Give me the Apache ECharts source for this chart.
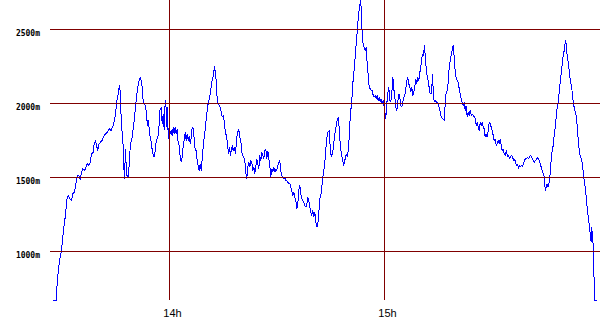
<!DOCTYPE html>
<html>
<head>
<meta charset="utf-8">
<script src="https://cdn.jsdelivr.net/npm/echarts@6/dist/echarts.min.js"></script>
<style>html,body{margin:0;padding:0;background:#fff;}#c{width:600px;height:330px;}#c svg path{shape-rendering:crispEdges;}</style>
</head>
<body>
<div id="c"></div>
<script>
// time in minutes after 13:00, altitude in metres
const climb = [[27.35,669],[28.47,669],[28.5,736],[28.83,838],[29.30,939],[29.78,995],[30.22,1097],[30.50,1164],[30.89,1232],[31.17,1299],[31.45,1367],[31.73,1378],[32.18,1356],[32.65,1345],[33.01,1390],[33.49,1401],[33.85,1457],[34.24,1514],[34.69,1514],[35.08,1484],[35.36,1525],[35.72,1559],[36.28,1547],[36.64,1566],[37.03,1593],[37.48,1581],[37.95,1603],[38.15,1655],[38.71,1671],[38.99,1728],[39.35,1750],[39.63,1716],[39.99,1682],[40.27,1723],[40.74,1739],[41.22,1750],[41.50,1772],[41.94,1791],[42.42,1799],[42.78,1813],[43.17,1829],[43.73,1818],[44.09,1840],[44.46,1867],[44.85,1919],[45.13,1975],[45.40,2032],[45.68,2066],[45.85,2099],[46.13,2122],[46.33,2020],[46.60,1840],[46.97,1772],[47.16,1615],[47.44,1491],[47.72,1694],[48.00,1525],[48.28,1502],[48.56,1502],[48.84,1637],[49.12,1728],[49.59,1772],[50.04,1863],[50.51,1975],[50.79,2043],[51.15,2110],[51.54,2155],[51.91,2178]];
const around14h = [[52.38,2110],[52.66,2009],[53.02,1998],[53.39,1975],[53.58,1907],[53.94,1851],[54.14,1885],[54.42,1795],[54.78,1761],[55.06,1705],[55.45,1649],[55.81,1637],[56.09,1705],[56.37,1755],[56.73,1772],[57.01,1818],[57.29,1953],[57.68,1975],[57.96,1863],[58.24,1930],[58.52,1818],[58.80,2020],[59.08,1964],[59.25,1840],[59.44,1975],[59.64,1761],[59.92,1851],[60.20,1795],[60.47,1818],[60.75,1784],[61.03,1840],[61.31,1795],[61.59,1840],[61.87,1795],[62.15,1829],[62.43,1728],[62.71,1716],[62.99,1637],[63.27,1603],[63.54,1637],[63.82,1716],[64.10,1750],[64.38,1806],[64.66,1750],[64.94,1795],[65.22,1750],[65.50,1777],[65.78,1728],[66.06,1768],[66.33,1840],[66.61,1829],[66.89,1761],[67.17,1682],[67.45,1682],[67.73,1615],[68.01,1581],[68.29,1543],[68.57,1593],[68.85,1547],[69.13,1626],[69.40,1705],[69.68,1772],[70.05,1840],[70.33,1919],[70.69,1986],[71.08,2032],[71.44,2076],[71.72,2133],[72.00,2167],[72.28,2196],[72.56,2250],[72.84,2201],[73.12,2133],[73.31,2020],[73.59,1998],[73.95,1986],[74.23,1964],[74.51,1930],[74.79,1907],[75.07,1919],[75.35,1863],[75.63,1795],[75.91,1784],[76.19,1728],[76.47,1660],[76.74,1705],[77.02,1649]];
const descent = [[77.50,1716],[77.78,1682],[78.14,1705],[78.42,1660],[78.78,1772],[79.06,1806],[79.34,1829],[79.62,1772],[79.90,1750],[80.18,1671],[80.46,1649],[80.73,1637],[81.01,1615],[81.29,1536],[81.57,1491],[81.85,1570],[82.13,1603],[82.41,1570],[82.69,1615],[82.97,1603],[83.25,1547],[83.53,1570],[83.80,1525],[84.08,1570],[84.36,1626],[84.64,1593],[84.92,1559],[85.20,1649],[85.48,1615],[85.76,1671],[86.04,1649],[86.32,1626],[86.60,1682],[86.87,1694],[87.15,1626],[87.43,1682],[87.71,1626],[87.99,1581],[88.27,1507],[88.55,1559],[88.83,1536],[89.11,1570],[89.39,1536],[89.67,1559],[89.94,1547],[90.22,1581],[90.50,1603],[90.78,1615],[91.06,1547],[91.34,1514],[91.62,1498],[91.90,1491],[92.18,1502],[92.46,1480],[92.73,1480],[93.01,1468],[93.29,1457],[93.57,1461],[93.85,1434],[94.13,1412],[94.41,1378],[94.69,1401],[94.97,1367],[95.25,1345],[95.53,1289],[95.80,1322],[96.08,1412],[96.36,1446],[96.64,1390],[96.92,1356],[97.20,1345],[97.48,1333],[97.76,1311],[98.04,1299],[98.32,1322],[98.60,1367],[98.87,1345],[99.15,1299],[99.43,1266],[99.71,1243],[99.99,1277],[100.27,1232],[100.55,1266],[100.83,1198],[101.11,1164],[101.39,1187],[101.66,1255],[101.94,1356],[102.22,1378],[102.50,1434],[102.78,1502],[103.06,1547],[103.34,1603],[103.62,1682]];
const around15h = [[103.81,1750],[104.18,1806],[104.57,1818],[104.85,1705],[105.13,1637],[105.40,1660],[105.77,1705],[106.05,1784],[106.33,1818],[106.60,1863],[106.88,1897],[107.16,1907],[107.44,1795],[107.72,1705],[108.00,1649],[108.36,1615],[108.64,1581],[108.92,1615],[109.31,1660],[109.67,1637],[110.04,1728],[110.32,1863],[110.60,1953],[110.87,2020],[111.15,2133],[111.43,2201],[111.71,2279],[111.99,2370],[112.27,2448],[112.55,2539],[112.83,2617],[113.11,2662],[113.39,2699],[113.58,2561],[113.78,2471],[114.06,2392],[114.33,2380],[114.61,2358],[114.89,2380],[115.17,2268],[115.45,2189],[115.73,2110],[116.01,2099],[116.29,2088],[116.57,2088],[116.85,2054],[117.13,2043],[117.40,2054],[117.68,2032],[117.96,2054],[118.24,2020],[118.52,2043],[118.80,2009],[119.08,2032],[119.36,1998],[119.64,2020],[119.92,1975],[120.19,1930],[120.36,1897],[120.64,1998],[120.92,2066],[121.20,2110],[121.48,2020],[121.76,2009],[122.04,2066],[122.32,2178],[122.60,2099],[122.87,2043],[123.15,1975],[123.43,1953],[123.71,2009],[123.99,2066],[124.27,2043],[124.55,1986],[124.83,1975],[125.11,2009],[125.39,2043],[125.66,2054],[125.94,2099],[126.22,2155],[126.50,2178],[126.78,2133],[127.06,2110],[127.34,2076],[127.62,2110],[127.90,2054],[128.18,2076],[128.46,2110],[128.73,2167],[129.01,2133],[129.29,2178],[129.57,2155],[129.85,2212]];
const ridges = [[130.05,2223],[130.33,2291],[130.61,2336],[130.88,2324],[131.16,2392],[131.44,2291],[131.72,2223],[132.00,2167],[132.28,2155],[132.56,2076],[132.84,2066],[133.12,2066],[133.40,2201],[133.67,2043],[133.95,2009],[134.23,2020],[134.51,2009],[134.79,2009],[135.07,1986],[135.35,1964],[135.63,1930],[135.91,1907],[136.19,1897],[136.46,1890],[136.74,1885],[136.94,2009],[137.22,2076],[137.50,2088],[137.78,2144],[138.06,2245],[138.33,2291],[138.61,2324],[138.89,2358],[139.17,2392],[139.45,2313],[139.73,2212],[140.01,2167],[140.29,2155],[140.57,2144],[140.85,2099],[141.13,2066],[141.40,2032],[141.68,2009],[141.96,1986],[142.24,2009],[142.52,1953],[142.80,1986],[143.08,1907],[143.36,1941],[143.64,1919],[143.92,1953],[144.20,1919],[144.47,1930],[144.75,1919],[145.03,1912],[145.31,1897],[145.59,1851],[145.87,1874],[146.15,1840],[146.43,1818],[146.71,1874],[146.99,1851],[147.26,1874],[147.54,1840],[147.82,1829],[148.10,1772],[148.38,1795],[148.66,1772],[148.94,1818],[149.22,1874],[149.50,1863],[149.78,1840],[150.06,1818],[150.33,1784],[150.61,1750],[150.89,1761],[151.17,1716],[151.45,1728],[151.73,1750],[152.01,1728],[152.29,1761],[152.57,1716],[152.85,1682],[153.13,1694],[153.40,1660],[153.68,1649]];
const finale = [[154.05,1682],[154.33,1637],[154.61,1649],[154.88,1626],[155.16,1637],[155.44,1649],[155.72,1642],[156.00,1615],[156.28,1626],[156.56,1603],[156.84,1581],[157.12,1593],[157.40,1559],[157.67,1581],[157.95,1570],[158.23,1581],[158.51,1570],[158.79,1593],[159.07,1615],[159.35,1626],[159.63,1626],[159.91,1637],[160.19,1626],[160.47,1637],[160.74,1649],[161.02,1637],[161.30,1626],[161.58,1615],[161.86,1603],[162.14,1615],[162.42,1626],[162.70,1633],[162.98,1626],[163.26,1615],[163.53,1581],[163.81,1570],[164.09,1536],[164.37,1525],[164.65,1491],[164.85,1412],[165.13,1434],[165.40,1457],[165.68,1434],[165.96,1468],[166.24,1525],[166.52,1626],[166.80,1682],[167.08,1716],[167.36,1784],[167.64,1840],[167.92,1907],[168.20,1975],[168.47,2009],[168.75,2076],[169.03,2144],[169.31,2201],[169.59,2268],[169.87,2324],[170.15,2358],[170.43,2414],[170.60,2430],[170.79,2358],[171.07,2313],[171.35,2268],[171.63,2201],[171.91,2144],[172.19,2122],[172.47,2054],[172.74,1998],[173.02,1964],[173.30,1941],[173.58,1907],[173.86,1818],[174.14,1728],[174.42,1671],[174.70,1637],[174.98,1626],[175.26,1581],[175.53,1525],[175.81,1457],[176.09,1424],[176.37,1345],[176.65,1277],[176.93,1221],[177.21,1164],[177.49,1097],[177.68,1063],[177.85,1164],[178.05,1074],[178.24,1052],[178.41,1007],[178.52,669],[178.69,669],[179.44,669]];

const yTicks = [1000, 1500, 2000, 2500];
const xTicks = [60, 120];
const xTickLabels = ['14h', '15h'];

const track = [].concat(climb, around14h, descent, around15h, ridges, finale);

const chart = echarts.init(document.getElementById('c'), null, {renderer: 'svg'});
const gridColor = '#800000';
const markLines = yTicks.map(v => ({yAxis: v})).concat(xTicks.map(v => ({xAxis: v})));

chart.setOption({
  animation: false,
  backgroundColor: '#ffffff',
  grid: {left: 50, right: 0, top: 0, bottom: 30, containLabel: false},
  xAxis: {
    type: 'value',
    min: 26.65,
    max: 180.14,
    axisLine: {show: false},
    axisTick: {show: false},
    splitLine: {show: false},
    axisLabel: {
      customValues: xTicks,
      formatter: v => xTickLabels[xTicks.indexOf(v)] || '',
      color: '#000',
      fontFamily: 'Liberation Sans, Arial, sans-serif',
      fontSize: 11,
      margin: 7,
      padding: [0, 0, 0, 6]
    }
  },
  yAxis: {
    type: 'value',
    min: 672.3,
    max: 2699.3,
    axisLine: {show: false},
    axisTick: {show: false},
    splitLine: {show: false},
    axisLabel: {
      customValues: yTicks,
      formatter: v => v + 'm',
      color: '#000',
      fontFamily: 'DejaVu Sans Mono, monospace',
      fontWeight: 'bold',
      fontSize: 8,
      margin: 10,
      verticalAlign: 'top'
    }
  },
  series: [
    {
      type: 'line',
      z: 1,
      data: [],
      silent: true,
      markLine: {
        silent: true,
        symbol: ['none', 'none'],
        label: {show: false},
        emphasis: {disabled: true},
        lineStyle: {color: gridColor, width: 1, type: 'solid'},
        data: markLines
      }
    },
    {
      type: 'line',
      z: 3,
      data: track,
      showSymbol: false,
      symbol: 'none',
      clip: false,
      lineStyle: {color: '#0000ff', width: 1},
      emphasis: {disabled: true}
    }
  ]
});
</script>
</body>
</html>
